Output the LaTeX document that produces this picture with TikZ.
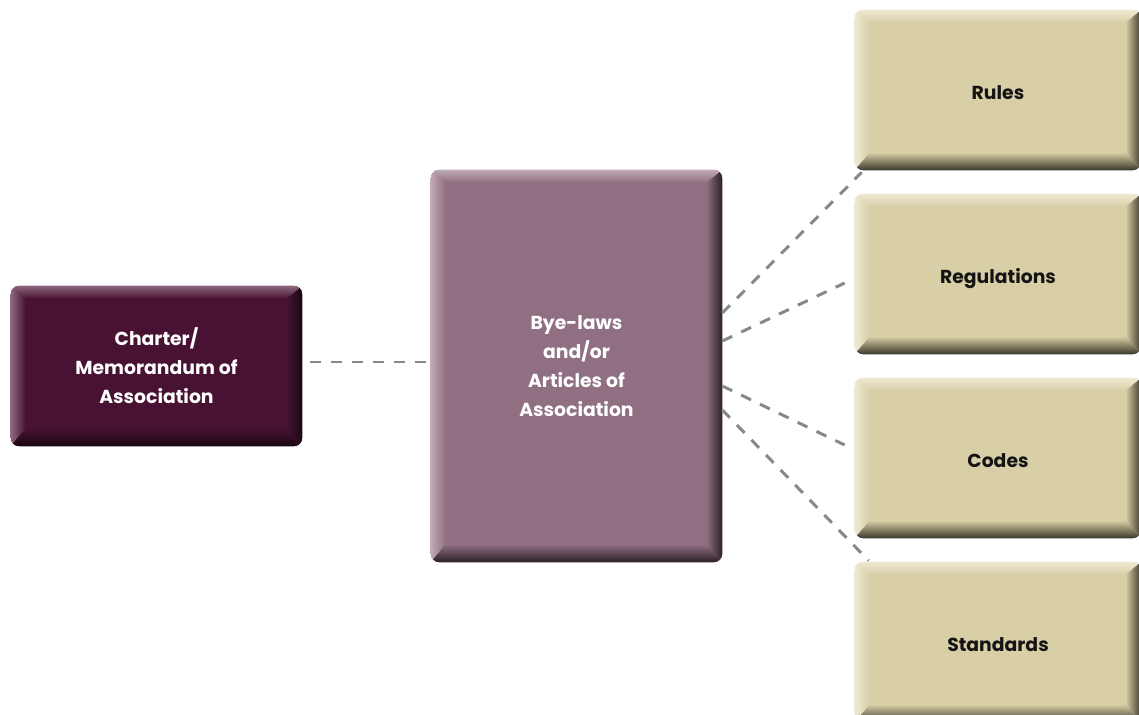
\documentclass[tikz,border=0pt]{standalone}
\usepackage{fontspec}
\setmainfont{Poppins}
\usetikzlibrary{positioning,calc,backgrounds}
\definecolor{PlumDark}{RGB}{72,19,51}
\definecolor{PlumDarkHi}{RGB}{142,104,124}
\definecolor{PlumDarkLo}{RGB}{24,7,17}
\definecolor{Mauve}{RGB}{143,111,129}
\definecolor{MauveHi}{RGB}{192,170,182}
\definecolor{MauveLo}{RGB}{44,31,39}
\definecolor{Sand}{RGB}{216,207,167}
\definecolor{SandHi}{RGB}{238,233,212}
\definecolor{SandLo}{RGB}{58,55,40}
\definecolor{DashGray}{RGB}{136,136,136}
\tikzset{
  box/.style={rectangle,inner sep=0pt,align=center,
    font=\bfseries\fontsize{10.7}{16.5}\selectfont},
  link/.style={draw=DashGray,line width=1.7pt,dash pattern=on 6.2pt off 5.7pt},
}
% raised-button look behind a node
\newcommand{\bevel}[4]{%
  \begin{scope}[on background layer]
  \begin{scope}
    \clip[rounded corners=5pt] (#1.south west) rectangle (#1.north east);
    \fill[#2] (#1.south west) rectangle (#1.north east);
    \shade[left color=#3,right color=#2] (#1.north west) -- ($(#1.north west)+(15,13)$)
      -- ($(#1.south west)+(15,-18)$) -- (#1.south west) -- cycle;
    \shade[left color=#2,right color=#4] (#1.north east) -- ($(#1.north east)+(-16,13)$)
      -- ($(#1.south east)+(-16,-18)$) -- (#1.south east) -- cycle;
    \shade[top color=#3,bottom color=#2] (#1.north west) -- (#1.north east)
      -- ($(#1.north east)+(-16,13)$) -- ($(#1.north west)+(15,13)$) -- cycle;
    \shade[top color=#2,bottom color=#4] (#1.south west) -- (#1.south east)
      -- ($(#1.south east)+(-16,-18)$) -- ($(#1.south west)+(15,-18)$) -- cycle;
  \end{scope}
  \end{scope}}

\begin{document}
\begin{tikzpicture}[x=0.02cm,y=-0.02cm]
\useasboundingbox (0,0) rectangle (1139,715);
\node[box,minimum width=5.82cm,minimum height=3.2cm,text=white] (charter) at (156.5,366)
  {Charter/\\Memorandum of\\Association};
\node[box,minimum width=5.82cm,minimum height=7.84cm,text=white] (bylaws) at (576.5,366)
  {Bye-laws\\and/or\\Articles of\\Association};
\foreach \name/\y/\txt in {rules/90/Rules,regs/274/Regulations,codes/458/Codes,stds/642/Standards}{
  \node[box,minimum width=5.72cm,minimum height=3.2cm,text=black!92] (\name) at (998,\y)
    {\raisebox{-0.2cm}[0pt][0pt]{\txt}};
  \bevel{\name}{Sand}{SandHi}{SandLo}
}
\bevel{charter}{PlumDark}{PlumDarkHi}{PlumDarkLo}
\bevel{bylaws}{Mauve}{MauveHi}{MauveLo}
% dashed connectors
\draw[link] ($(charter.east)+(8,-4)$) -- ($(bylaws.west)+(-3,-4)$);
\draw[link] ($(bylaws.east)+(0,-53)$) -- ($(rules.south west)+(7,2)$);
\draw[link] ($(bylaws.east)+(0,-25)$) -- ($(regs.west)+(-10,9)$);
\draw[link] ($(bylaws.east)+(0,20)$) -- ($(codes.west)+(-10,-13)$);
\draw[link] ($(bylaws.east)+(0,44)$) -- ($(stds.north west)+(14,-1)$);
\end{tikzpicture}
\end{document}
